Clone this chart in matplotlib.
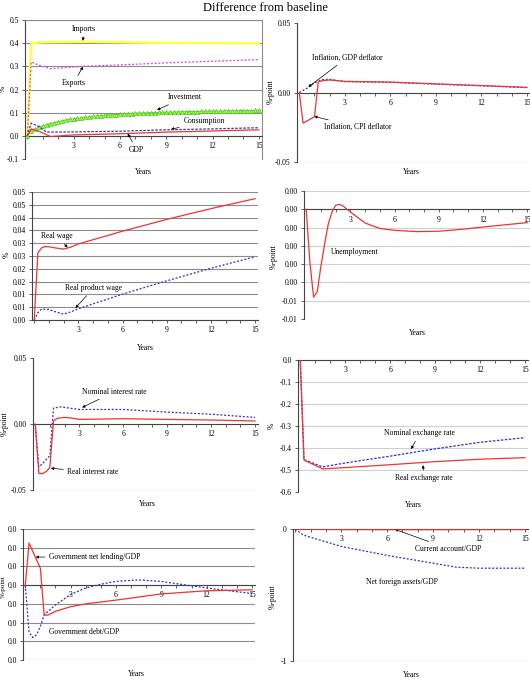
import numpy as np
import matplotlib
matplotlib.use('Agg')
import matplotlib.pyplot as plt
from matplotlib.ticker import FixedLocator, MultipleLocator

plt.rcParams['font.family'] = ['Liberation Serif', 'DejaVu Serif']

#-------- data (years after shock, difference from baseline)
# panel 1: demand components, %
imp_x = [0, 0.25, 1, 4, 8, 15]
imp_y = [0, 0.400, 0.404, 0.406, 0.402, 0.400]
exp_x = [0, 0.25, 0.75, 1.5, 3.6, 6, 9, 12, 15]
exp_y = [0, 0.319, 0.305, 0.290, 0.300, 0.306, 0.315, 0.322, 0.329]
inv_y = [0.000, 0.020, 0.030, 0.037, 0.043, 0.048, 0.053, 0.057, 0.061, 0.065,
         0.068, 0.071, 0.074, 0.076, 0.078, 0.080, 0.082, 0.084, 0.086, 0.087,
         0.089, 0.090, 0.091, 0.092, 0.093, 0.094, 0.095, 0.096, 0.097, 0.098,
         0.098, 0.099, 0.100, 0.100, 0.101, 0.101, 0.102, 0.102, 0.103, 0.103,
         0.104, 0.104, 0.105, 0.105, 0.105, 0.106, 0.106, 0.106, 0.107, 0.107,
         0.107, 0.108, 0.108, 0.108, 0.108, 0.109, 0.109, 0.109, 0.109, 0.110, 0.110]
con_x = [0, 0.25, 0.75, 1.25, 3, 6, 9, 12, 15]
con_y = [0, 0.055, 0.040, 0.016, 0.017, 0.020, 0.026, 0.030, 0.035]
gdp_x = [0, 0.25, 0.75, 1.5, 3, 6, 9, 12, 15]
gdp_y = [0, 0.030, 0.020, -0.003, 0.004, 0.009, 0.016, 0.021, 0.026]

# panel 2: inflation, %-point
cpi_x = [0, 0.25, 1.0, 1.25, 1.5, 2.0, 3, 6, 9, 12, 15]
cpi_y = [0, -0.022, -0.0175, 0.0075, 0.0085, 0.009, 0.008, 0.0075, 0.0062, 0.005, 0.0037]
gdpd_x = [0, 0.5, 1.0, 1.5, 2.0, 3, 6, 9, 12, 15]
gdpd_y = [0, 0.003, 0.007, 0.0092, 0.0095, 0.0078, 0.0073, 0.006, 0.0048, 0.0035]

# panel 3: wages, %
rw_x = [0, 0.25, 0.5, 0.75, 1.0, 1.5, 2.0, 2.5, 3, 6, 9, 12, 15]
rw_y = [0, 0.0262, 0.0282, 0.0287, 0.0286, 0.0281, 0.0277, 0.0285, 0.0297,
        0.0347, 0.0393, 0.0435, 0.0474]
rpw_x = [0, 0.25, 0.5, 1.0, 1.5, 2.0, 2.5, 3, 6, 9, 12, 15]
rpw_y = [0, 0.0028, 0.0043, 0.0041, 0.0031, 0.0023, 0.0032, 0.0044,
         0.0101, 0.0153, 0.0202, 0.0247]
wage_ticks = [0.000, 0.005, 0.010, 0.015, 0.020, 0.025, 0.030, 0.035, 0.040, 0.045, 0.050]
wage_labels = ['0.00', '0.01', '0.01', '0.02', '0.02', '0.03', '0.03', '0.04', '0.04', '0.05', '0.05']

# panel 4: unemployment, %-point
une_x = [0, 0.25, 0.5, 0.75, 1.0, 1.25, 1.5, 1.75, 2.0, 2.25, 2.5, 3, 4, 5, 6,
         7.5, 9, 10.5, 12, 13.5, 15]
une_y = [0, -0.0029, -0.0048, -0.0045, -0.0031, -0.0019, -0.0008, -0.00015,
         0.00022, 0.00027, 0.00018, -0.00015, -0.00075, -0.00105, -0.00115,
         -0.00122, -0.0012, -0.0011, -0.00097, -0.00085, -0.00073]
une_ticks = [0.001, 0.000, -0.001, -0.002, -0.003, -0.004, -0.005, -0.006]
une_labels = ['0.00', '0.00', '0.00', '0.00', '0.00', '0.00', '-0.01', '-0.01']

# panel 5: interest rates, %-point
nir_x = [0, 0.25, 0.5, 0.75, 1.0, 1.25, 1.75, 2.5, 3, 6, 9, 12, 15]
nir_y = [0, -0.0325, -0.030, -0.027, -0.024, 0.012, 0.013, 0.0118, 0.011,
         0.011, 0.009, 0.0074, 0.005]
rir_x = [0, 0.25, 0.5, 0.75, 1.0, 1.25, 1.5, 2.0, 2.5, 3, 6, 9, 12, 15]
rir_y = [0, -0.0375, -0.0375, -0.036, -0.033, 0.0023, 0.0043, 0.005, 0.0045,
         0.0035, 0.004, 0.0035, 0.003, 0.0023]

# panel 6: exchange rates, %
ner_x = [0, 0.25, 1.5, 3, 6, 9, 12, 15]
ner_y = [0, -0.453, -0.486, -0.468, -0.437, -0.404, -0.374, -0.353]
rer_x = [0, 0.25, 1.5, 3, 6, 9, 12, 15]
rer_y = [0, -0.455, -0.495, -0.489, -0.476, -0.462, -0.451, -0.444]

# panel 7: government, %-point
gnl_x = [0, 0.25, 1.0, 1.25, 1.5, 2, 3, 4, 6, 9, 12, 15]
gnl_y = [0, 0.0225, 0.009, -0.016, -0.016, -0.014, -0.0115, -0.010, -0.008,
         -0.0047, -0.003, -0.0025]
gdb_x = [0, 0.25, 0.5, 0.75, 1.0, 1.25, 2, 3, 4, 5, 6, 7.5, 9, 10.5, 12, 13.5, 15]
gdb_y = [0, -0.025, -0.028, -0.0265, -0.022, -0.016, -0.0105, -0.005, -0.0015,
         0.0005, 0.002, 0.0028, 0.002, 0.0002, -0.0015, -0.003, -0.0045]
gov_ticks = [0.03, 0.02, 0.01, 0.0, -0.01, -0.02, -0.03, -0.04]
gov_labels = ['0.0'] * 8

# panel 8: external, %-point
ca_x = [0, 3, 6, 9, 12, 15]
ca_y = [0, -0.003, -0.004, -0.004, -0.003, -0.003]
nfa_x = [0, 0.5, 3, 6, 9, 10.5, 12, 15]
nfa_y = [0, -0.045, -0.132, -0.200, -0.259, -0.289, -0.297, -0.297]

RED = '#ee3333'
BLUE = '#3333bb'
DOT = (0, (1.6, 1.4))
FS = 5.5
W, H = 530.0, 689.0

fig = plt.figure(figsize=(5.3, 6.89), dpi=100)
fig.text(0.5, 1 - 8 / H, 'Difference from baseline', ha='center', va='center', fontsize=9)


def make_ax(l, t, r, b, ylim, yticks, ylabels, grid, gridcol='#8c8c8c'):
    ax = fig.add_axes([l / W, 1 - b / H, (r - l) / W, (b - t) / H])
    ax.set_xlim(-0.15, 15.2)
    ax.set_ylim(*ylim)
    ax.spines['top'].set_visible(False)
    ax.spines['right'].set_visible(False)
    ax.spines['left'].set_color('#444444')
    ax.spines['left'].set_linewidth(0.8)
    ax.spines['bottom'].set_position(('data', 0))
    ax.spines['bottom'].set_color('#444444')
    ax.spines['bottom'].set_linewidth(0.8)
    ax.xaxis.set_major_locator(FixedLocator([3, 6, 9, 12, 15]))
    ax.xaxis.set_minor_locator(MultipleLocator(1))
    ax.tick_params(axis='x', which='both', direction='out', length=2.5, width=0.6,
                   labelsize=FS, pad=2, color='#444444')
    ax.set_yticks(yticks)
    ax.set_yticklabels(ylabels)
    ax.tick_params(axis='y', direction='out', length=2.5, width=0.6, labelsize=FS,
                   pad=2, color='#444444')
    if grid:
        for v in yticks:
            ax.axhline(v, color=gridcol, lw=0.8, zorder=0)
    else:
        ax.axhline(ylim[0], color='#888888', lw=0.8, zorder=0)
    return ax


def labels(ax, ylab, ylx, yly, xlx, xly, yfs=FS):
    fig.text(ylx / W, 1 - yly / H, ylab, rotation=90, ha='center', va='center', fontsize=yfs)
    fig.text(xlx / W, 1 - xly / H, 'Years', ha='center', va='center', fontsize=FS)


def note(ax, txt, tx, ty, ax_=None, ay_=None):
    if ax_ is None:
        ax.text(tx, ty, txt, fontsize=FS, ha='left', va='center')
    else:
        ax.annotate(txt, xy=(ax_, ay_), xytext=(tx, ty), fontsize=FS, ha='left', va='center',
                    arrowprops=dict(arrowstyle='-|>', lw=0.5, color='black',
                                    mutation_scale=4, shrinkA=1, shrinkB=0))


# ---- panel 1
ax1 = make_ax(25, 20, 262, 159, (-0.1, 0.5), np.arange(-0.1, 0.51, 0.1),
              ['-0.1', '0.0', '0.1', '0.2', '0.3', '0.4', '0.5'], True)
ax1.spines['top'].set_visible(True)
ax1.spines['right'].set_visible(True)
ax1.spines['top'].set_color('#8c8c8c')
ax1.spines['right'].set_color('#8c8c8c')
ax1.plot(imp_x, imp_y, color='#ffff44', lw=1.8, zorder=3)
ax1.plot(exp_x, exp_y, color='#dd44dd', lw=0.9, ls=DOT, zorder=3)
inv_x = np.arange(len(inv_y)) * 0.25
ax1.plot(inv_x, inv_y, color='#66dd22', lw=0.8, marker='^', markersize=3,
         markerfacecolor='#99ff44', markeredgecolor='#44bb11', markeredgewidth=0.4, zorder=3)
ax1.plot(con_x, con_y, color=BLUE, lw=0.9, ls=(0, (2, 1.2)), zorder=4)
ax1.plot(gdp_x, gdp_y, color=RED, lw=0.9, zorder=4)
note(ax1, 'Imports', 2.9, 0.462, 3.6, 0.41)
note(ax1, 'Exports', 2.2, 0.226, 3.6, 0.298)
note(ax1, 'Investment', 9.1, 0.166, 8.4, 0.112)
note(ax1, 'Consumption', 10.1, 0.062, 9.3, 0.028)
note(ax1, 'GDP', 6.6, -0.06, 6.5, 0.01)
labels(ax1, '%', 3, 89, 143, 172)

# ---- panel 2
ax2 = make_ax(297, 23, 530, 162, (-0.05, 0.05), [-0.05, 0.0, 0.05],
              ['-0.05', '0.00', '0.05'], False)
ax2.plot(gdpd_x, gdpd_y, color=BLUE, lw=0.9, ls=DOT, zorder=3)
ax2.plot(cpi_x, cpi_y, color=RED, lw=0.9, zorder=4)
note(ax2, 'Inflation, GDP deflator', 0.82, 0.025, 0.6, 0.004)
note(ax2, 'Inflation, CPI deflator', 1.6, -0.0248, 0.98, -0.0172)
labels(ax2, '%-point', 271, 92, 411, 172)

# ---- panel 3
ax3 = make_ax(32, 192, 258, 320, (0, 0.05), wage_ticks, wage_labels, True)
ax3.plot(rpw_x, rpw_y, color=BLUE, lw=0.9, ls=DOT, zorder=3)
ax3.plot(rw_x, rw_y, color=RED, lw=0.9, zorder=4)
note(ax3, 'Real wage', 0.48, 0.0327, 2.27, 0.0283)
note(ax3, 'Real product wage', 2.1, 0.0125, 2.8, 0.0047)
labels(ax3, '%', 7, 255, 145, 348)

# ---- panel 4
ax4 = make_ax(304, 191, 530, 319, (-0.006, 0.001), une_ticks, une_labels, True,
              gridcol='#cfcfcf')
ax4.plot(une_x, une_y, color=RED, lw=0.9, zorder=4)
note(ax4, 'Unemployment', 1.7, -0.00234)
labels(ax4, '%-point', 274, 257, 417, 333)

# ---- panel 5
ax5 = make_ax(33, 358, 258, 490, (-0.05, 0.05), [-0.05, 0.0, 0.05],
              ['-0.05', '0.00', '0.05'], False)
ax5.plot(nir_x, nir_y, color=BLUE, lw=0.9, ls=DOT, zorder=3)
ax5.plot(rir_x, rir_y, color=RED, lw=0.9, zorder=4)
note(ax5, 'Nominal interest rate', 3.2, 0.0244, 3.2, 0.0125)
note(ax5, 'Real interest rate', 2.2, -0.0366, 1.07, -0.0335)
labels(ax5, '%-point', 5, 424, 147, 504)

# ---- panel 6
ax6 = make_ax(298, 360, 528, 492, (-0.6, 0.0), np.arange(-0.6, 0.01, 0.1),
              ['-0.6', '-0.5', '-0.4', '-0.3', '-0.2', '-0.1', '0.0'], True,
              gridcol='#cfcfcf')
ax6.plot(ner_x, ner_y, color=BLUE, lw=0.9, ls=(0, (2, 1.2)), zorder=3)
ax6.plot(rer_x, rer_y, color=RED, lw=0.9, zorder=4)
note(ax6, 'Nominal exchange rate', 5.6, -0.333, 7.4, -0.405)
note(ax6, 'Real exchange rate', 6.3, -0.538, 8.2, -0.478)
labels(ax6, '%', 272, 426, 413, 505)

# ---- panel 7
ax7 = make_ax(23, 529, 255, 660, (-0.04, 0.03), gov_ticks, gov_labels, True)
ax7.tick_params(axis='y', pad=1.5)
ax7.plot(gdb_x, gdb_y, color=BLUE, lw=0.9, ls=DOT, zorder=3)
ax7.plot(gnl_x, gnl_y, color=RED, lw=0.9, zorder=4)
note(ax7, 'Government net lending/GDP', 1.57, 0.0151, 0.69, 0.015)
note(ax7, 'Government debt/GDP', 1.57, -0.025)
labels(ax7, '%-point', 3, 587, 136, 674, yfs=5)

# ---- panel 8
ax8 = make_ax(293, 529, 528, 661, (-1, 0), [-1, 0], ['-1', '0'], False)
ax8.plot(nfa_x, nfa_y, color=BLUE, lw=0.9, ls=DOT, zorder=3)
ax8.plot(ca_x, ca_y, color=RED, lw=1.2, alpha=0.8, zorder=4)
note(ax8, 'Current account/GDP', 7.85, -0.15, 6.5, -0.002)
note(ax8, 'Net foreign assets/GDP', 4.6, -0.40)
labels(ax8, '%-point', 273, 597, 411, 675)

plt.savefig('out.png', dpi=100)
